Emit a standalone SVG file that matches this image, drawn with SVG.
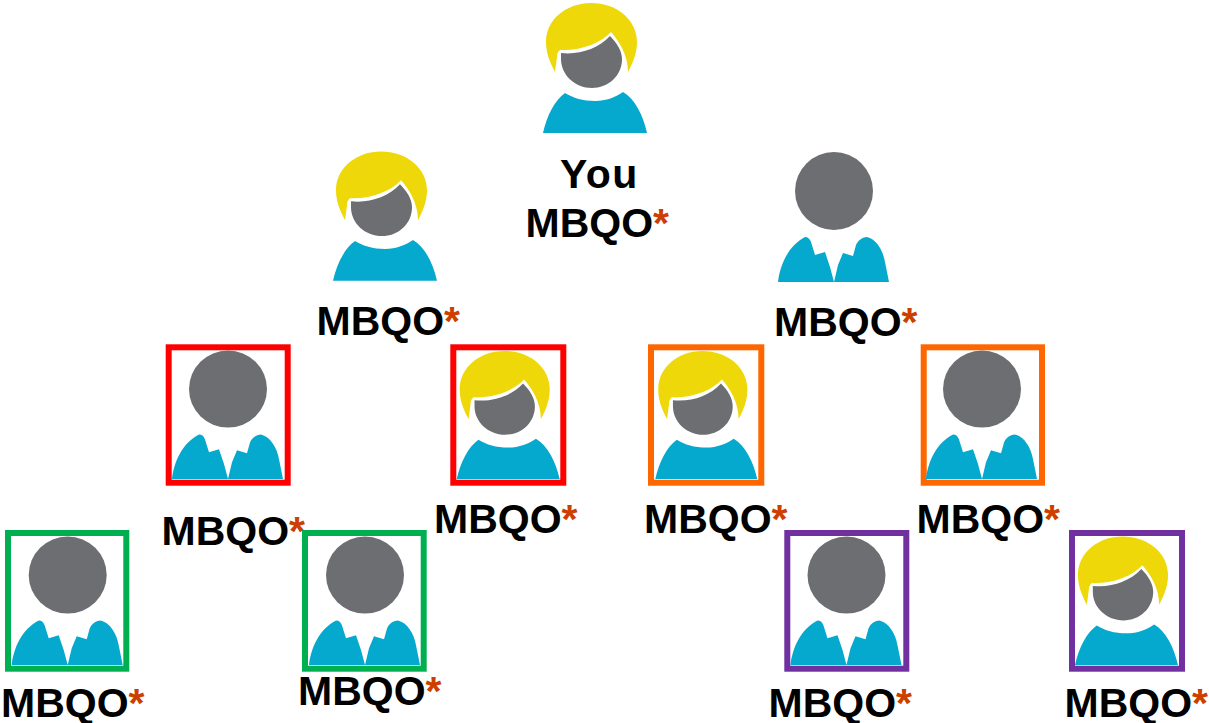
<svg xmlns="http://www.w3.org/2000/svg" xmlns:xlink="http://www.w3.org/1999/xlink" width="1209" height="723" viewBox="0 0 1209 723">
<style>
.hair{fill:#efd80a}.skin{fill:#6d6e71}.body{fill:#06a9ce}
.lbl{font-family:"Liberation Sans",Arial,sans-serif;font-weight:700;font-size:41px;fill:#000}
.you{letter-spacing:1.500px}
.ast{fill:#cc3f00}
.fr{fill:none;stroke-width:6}
.red{stroke:#ff0000}.orange{stroke:#ff6600}.green{stroke:#00b050}.purple{stroke:#7030a0}
</style>
<defs>
<g id="female">
<path class="hair" d="M12 69C6 58 3 49 3 39C3 16 24 0 48 0C74 0 94 17 94 39C94 50 90 60 85 69C85 52 76 38 68 29C58 40 38 48 17 47C14 50 14 52 14 54Z"/>
<path class="skin" d="M18 50C36 52 55 46 67 33C74 40 79 48 79 56C79 73 65 85 49 85C32 85 18 72 18 56Z"/>
<path class="body" d="M0 130C4 112 12 97 22 90C30 95 40 98 52 98C63 98 73 94 80 89C92 96 100 112 104 130Z"/>
</g>
<g id="male">
<circle class="skin" cx="56" cy="39" r="39"/>
<path class="body" d="M0 130C2 113 10 94 27 85C30 85 32 87 33 90L37 103L47 100L52 115L56 130L60 113L65 101L75 104L78 93C80 88 85 85 89 85C98 87 105 98 107 110L111 130Z"/>
</g>
</defs>
<rect width="1209" height="723" fill="#fff"/>
<g id="connectors"/>
<g id="you">
<use xlink:href="#female" href="#female" transform="translate(543 3)"/>
<text class="lbl you" x="560" y="188">You</text>
<text class="lbl" x="525.500" y="237">MBQO<tspan class="ast">*</tspan></text>
</g>
<g id="level1-left">
<use xlink:href="#female" href="#female" transform="translate(333 151.500) scale(1 .995)"/>
<text class="lbl" x="316.500" y="335">MBQO<tspan class="ast">*</tspan></text>
</g>
<g id="level1-right">
<use xlink:href="#male" href="#male" transform="translate(778 152)"/>
<text class="lbl" x="774" y="336">MBQO<tspan class="ast">*</tspan></text>
</g>
<g id="level2-red-male">
<rect class="fr red" x="168.700" y="347.300" width="119" height="135.400"/>
<use xlink:href="#male" href="#male" transform="translate(172 350.500) scale(1 .988)"/>
<text class="lbl" x="161.500" y="545">MBQO<tspan class="ast">*</tspan></text>
</g>
<g id="level2-red-female">
<rect class="fr red" x="453.300" y="347.300" width="110" height="135.400"/>
<use xlink:href="#female" href="#female" transform="translate(456.700 351) scale(.99 .985)"/>
<text class="lbl" x="434" y="533">MBQO<tspan class="ast">*</tspan></text>
</g>
<g id="level2-orange-female">
<rect class="fr orange" x="651" y="347.300" width="110.300" height="135.400"/>
<use xlink:href="#female" href="#female" transform="translate(655.300 351) scale(.98 .985)"/>
<text class="lbl" x="644" y="533">MBQO<tspan class="ast">*</tspan></text>
</g>
<g id="level2-orange-male">
<rect class="fr orange" x="923.700" y="347.300" width="118.300" height="135.400"/>
<use xlink:href="#male" href="#male" transform="translate(926 350.500) scale(1 .988)"/>
<text class="lbl" x="916.500" y="533">MBQO<tspan class="ast">*</tspan></text>
</g>
<g id="level3-green-1">
<rect class="fr green" x="8" y="533" width="118.300" height="135.700"/>
<use xlink:href="#male" href="#male" transform="translate(11.700 536.500) scale(1 .988)"/>
<text class="lbl" x="1" y="717">MBQO<tspan class="ast">*</tspan></text>
</g>
<g id="level3-green-2">
<rect class="fr green" x="305" y="533" width="118.700" height="135.700"/>
<use xlink:href="#male" href="#male" transform="translate(309 536.500) scale(1 .988)"/>
<text class="lbl" x="298" y="705">MBQO<tspan class="ast">*</tspan></text>
</g>
<g id="level3-purple-1">
<rect class="fr purple" x="787.300" y="533" width="119" height="135.700"/>
<use xlink:href="#male" href="#male" transform="translate(790.500 536.500) scale(1 .988)"/>
<text class="lbl" x="768.500" y="717">MBQO<tspan class="ast">*</tspan></text>
</g>
<g id="level3-purple-2">
<rect class="fr purple" x="1072" y="533" width="110" height="135.700"/>
<use xlink:href="#female" href="#female" transform="translate(1075 536.500) scale(.99 .988)"/>
<text class="lbl" x="1064.500" y="717">MBQO<tspan class="ast">*</tspan></text>
</g>
</svg>
